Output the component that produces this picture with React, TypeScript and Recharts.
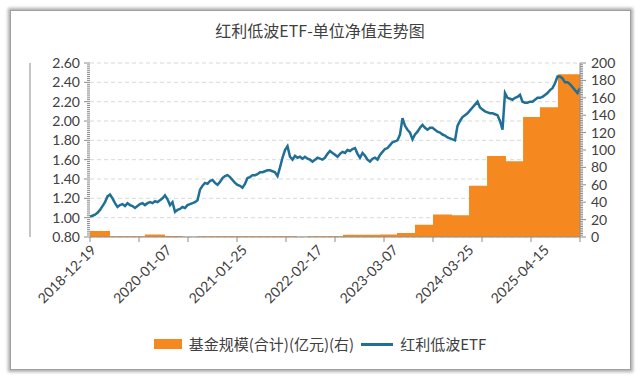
import React from 'react';
import { ComposedChart, Line, Area, XAxis, YAxis, CartesianGrid } from 'recharts';

// ---------- data ----------
const TOTAL_T = 1687; // trading days shown on the x axis
const xLabelDates = ['2018-12-19', '2020-01-07', '2021-01-25', '2022-02-17', '2023-03-07', '2024-03-25', '2025-04-15'];
const xLabelStep = 260; // trading days between labels
const xTickDivisions = 10;

// unit NAV sampled evenly across the period
const navValues = [
  1.01, 1.02, 1.03, 1.05, 1.08, 1.12, 1.16, 1.22, 1.24, 1.20,
  1.15, 1.11, 1.13, 1.14, 1.12, 1.15, 1.13, 1.12, 1.10, 1.12,
  1.14, 1.15, 1.13, 1.15, 1.16, 1.15, 1.17, 1.16, 1.18, 1.20,
  1.23, 1.19, 1.13, 1.16, 1.06, 1.08, 1.09, 1.11, 1.10, 1.13,
  1.14, 1.15, 1.16, 1.18, 1.29, 1.33, 1.36, 1.35, 1.38, 1.39,
  1.36, 1.34, 1.37, 1.41, 1.43, 1.44, 1.42, 1.39, 1.36, 1.34,
  1.33, 1.31, 1.35, 1.41, 1.42, 1.44, 1.44, 1.45, 1.47, 1.47,
  1.48, 1.49, 1.49, 1.48, 1.47, 1.43, 1.52, 1.62, 1.70, 1.74,
  1.63, 1.60, 1.64, 1.62, 1.63, 1.61, 1.63, 1.61, 1.60, 1.58,
  1.60, 1.62, 1.61, 1.60, 1.62, 1.66, 1.69, 1.67, 1.65, 1.63,
  1.66, 1.68, 1.67, 1.70, 1.69, 1.71, 1.72, 1.66, 1.62, 1.67,
  1.64, 1.60, 1.58, 1.61, 1.62, 1.60, 1.65, 1.68, 1.71, 1.72,
  1.75, 1.78, 1.79, 1.80, 1.86, 2.03, 1.95, 1.91, 1.88, 1.81,
  1.86, 1.89, 1.93, 1.96, 1.93, 1.91, 1.93, 1.93, 1.91, 1.89,
  1.88, 1.86, 1.85, 1.83, 1.82, 1.81, 1.80, 1.95, 2.00, 2.04,
  2.06, 2.08, 2.11, 2.14, 2.17, 2.20, 2.14, 2.12, 2.10, 2.09,
  2.08, 2.08, 2.07, 2.06, 2.00, 1.91, 2.29, 2.24, 2.23, 2.22,
  2.24, 2.25, 2.27, 2.20, 2.19, 2.19, 2.20, 2.20, 2.22, 2.24,
  2.24, 2.25, 2.27, 2.29, 2.32, 2.34, 2.39, 2.46, 2.46, 2.44,
  2.40, 2.40, 2.38, 2.35, 2.32, 2.29, 2.34,
];

// fund size (亿元), quarterly: start day of each period and its value
const sizeStarts = [0, 69, 189, 258, 317, 372, 713, 751, 871, 998, 1057, 1119, 1181, 1246, 1305, 1367, 1432, 1491, 1549, 1611];
const sizeValues = [7, 0.8, 3, 1.2, 0.3, 0.8, 0.3, 0.8, 2.5, 3, 4.5, 14, 26, 25, 59, 93, 87, 138, 149, 187];

const leftMin = 0.8;
const leftMax = 2.6;
const rightMin = 0;
const rightMax = 200;

// ---------- layout ----------
const MARGIN = { top: 63, right: 10, bottom: 81, left: 10 };
const LEFT_W = 80;
const RIGHT_W = 50;
const LEFT_AXIS_X = MARGIN.left + LEFT_W;

// ---------- derived ----------
const navData = navValues.map((v, i) => ({ t: (i * TOTAL_T) / (navValues.length - 1), nav: v }));
const sizeData = [
  ...sizeStarts.map((s, i) => ({ t: s, size: sizeValues[i] })),
  { t: TOTAL_T, size: sizeValues[sizeValues.length - 1] },
];

const labelPositions = xLabelDates.map((_, i) => i * xLabelStep);
const tickPositions = Array.from({ length: xTickDivisions + 1 }, (_, i) => (i * TOTAL_T) / xTickDivisions);
const xTicks = Array.from(new Set([...tickPositions, ...labelPositions])).sort((a, b) => a - b);

const leftTicks = Array.from({ length: 91 }, (_, k) => (40 + k) / 50); // every 0.02
const leftMajor = Array.from({ length: 10 }, (_, k) => (4 + k) / 5); // every 0.2
const rightTicks = Array.from({ length: 101 }, (_, k) => k * 2);

const AXIS = '#8c8c8c';
const TXT = '#404040';
const FONT = 'Lato, "Noto Sans", sans-serif';
const ORANGE = '#f5891f';
const BLUE = '#1f6f96';

const LeftTick = (props: any) => {
  const { y, payload } = props;
  const x = LEFT_AXIS_X;
  const k = Math.round(payload.value * 50);
  const major = k % 10 === 0;
  return (
    <g>
      <line x1={x} x2={x - (major ? 6 : 3)} y1={y} y2={y} stroke={AXIS} strokeWidth={1} />
      {major && (
        <text x={x - 10} y={y} dy={5} textAnchor="end" fontSize={14} fill={TXT} fontFamily={FONT}>
          {payload.value.toFixed(2)}
        </text>
      )}
    </g>
  );
};

const RightTick = (props: any) => {
  const { x, y, payload } = props;
  const major = payload.value % 20 === 0;
  return (
    <g>
      <line x1={x} x2={x + (major ? 6 : 3)} y1={y} y2={y} stroke={AXIS} strokeWidth={1} />
      {major && (
        <text x={x + 11} y={y} dy={5} textAnchor="start" fontSize={14} fill={TXT} fontFamily={FONT}>
          {payload.value}
        </text>
      )}
    </g>
  );
};

const XTick = (props: any) => {
  const { x, y, payload } = props;
  const v = payload.value;
  const isTick = tickPositions.some((p) => Math.abs(p - v) < 0.01);
  const li = labelPositions.findIndex((p) => Math.abs(p - v) < 0.01);
  return (
    <g>
      {isTick && <line x1={x} x2={x} y1={y} y2={y + 5} stroke={AXIS} strokeWidth={1} />}
      {li >= 0 && (
        <text
          transform={`translate(${x + 7},${y + 14}) rotate(-45)`}
          textAnchor="end"
          fontSize={14}
          fill={TXT}
          fontFamily={FONT}
        >
          {xLabelDates[li]}
        </text>
      )}
    </g>
  );
};

export default function App() {
  return (
    <div style={{ position: 'absolute', left: 0, top: 0, width: 640, height: 378, background: '#fff' }}>
      <div
        style={{
          position: 'absolute',
          left: 10,
          top: 10,
          width: 619,
          height: 358,
          border: '1px solid #a0a0a0',
          boxShadow: '0 0 3px 2px rgba(0,0,0,0.32)',
          background: '#fff',
        }}
      />
      <div
        style={{
          position: 'absolute',
          left: 0,
          top: 20,
          width: 640,
          textAlign: 'center',
          fontSize: 16,
          color: TXT,
          fontFamily: '"Noto Sans CJK SC", sans-serif',
          lineHeight: '20px',
        }}
      >
        红利低波ETF-单位净值走势图
      </div>
      <div style={{ position: 'absolute', left: 0, top: 0 }}>
        <ComposedChart width={640} height={378} margin={MARGIN}>
          <CartesianGrid yAxisId="grid" vertical={false} stroke="#d9d9d9" strokeDasharray="4 3" />
          <XAxis
            dataKey="t"
            type="number"
            domain={[0, TOTAL_T]}
            ticks={xTicks}
            interval={0}
            height={60}
            stroke={AXIS}
            tickLine={false}
            tickSize={0}
            tickMargin={0}
            tick={<XTick />}
          />
          <YAxis
            yAxisId="left"
            orientation="left"
            domain={[leftMin, leftMax]}
            ticks={leftTicks}
            interval={0}
            width={LEFT_W}
            stroke={AXIS}
            tickLine={false}
            tickSize={0}
            tickMargin={0}
            tick={<LeftTick />}
            allowDataOverflow
          />
          <YAxis yAxisId="grid" hide domain={[leftMin, leftMax]} ticks={leftMajor} interval={0} allowDataOverflow />
          <YAxis
            yAxisId="right"
            orientation="right"
            domain={[rightMin, rightMax]}
            ticks={rightTicks}
            interval={0}
            width={RIGHT_W}
            stroke={AXIS}
            tickLine={false}
            tickSize={0}
            tickMargin={0}
            tick={<RightTick />}
            allowDataOverflow
          />
          <Area
            data={sizeData}
            yAxisId="right"
            dataKey="size"
            type="stepAfter"
            fill={ORANGE}
            fillOpacity={1}
            stroke="none"
            isAnimationActive={false}
          />
          <Line
            data={navData}
            yAxisId="left"
            dataKey="nav"
            type="linear"
            stroke={BLUE}
            strokeWidth={2.5}
            dot={false}
            isAnimationActive={false}
          />
        </ComposedChart>
      </div>
      <div
        style={{
          position: 'absolute',
          left: 0,
          top: 334,
          width: 640,
          display: 'flex',
          justifyContent: 'center',
          alignItems: 'center',
          fontSize: 15,
          color: TXT,
          fontFamily: '"Noto Sans CJK SC", sans-serif',
          lineHeight: '20px',
        }}
      >
        <span style={{ display: 'inline-block', width: 28, height: 10, background: ORANGE, marginRight: 7 }} />
        <span>基金规模(合计)(亿元)(右)</span>
        <span style={{ display: 'inline-block', width: 32, height: 3, background: BLUE, marginLeft: 7, marginRight: 7 }} />
        <span>红利低波ETF</span>
      </div>
    </div>
  );
}
